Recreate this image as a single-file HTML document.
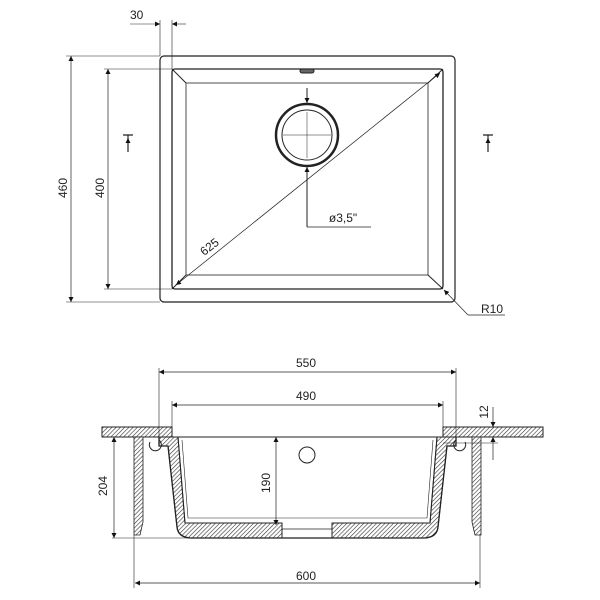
<!DOCTYPE html>
<html><head><meta charset="utf-8"><style>body{margin:0;background:#fff}svg{display:block}text{font-family:"Liberation Sans",sans-serif;font-size:12px;fill:#222}</style></head>
<body>
<svg width="600" height="600" viewBox="0 0 600 600" xmlns="http://www.w3.org/2000/svg">
<defs>
<pattern id="h" width="3" height="3" patternUnits="userSpaceOnUse" patternTransform="rotate(45)"><rect width="3" height="3" fill="#fff"/><line x1="0" y1="0" x2="0" y2="3" stroke="#333" stroke-width="1.2"/></pattern>
<marker id="a" viewBox="0 0 10 10" refX="10" refY="5" markerWidth="9" markerHeight="5" orient="auto-start-reverse" markerUnits="userSpaceOnUse"><path d="M0,0L10,5L0,10z" fill="#111"/></marker>
</defs>
<g fill="none" stroke="#222" stroke-width="1">
<rect x="160" y="56" width="295" height="246" rx="4" stroke-width="1.2"/>
<rect x="172" y="69" width="271" height="220" rx="3" stroke-width="1.3"/>
<rect x="186" y="83" width="242" height="192" stroke-width="0.8"/>
<line x1="172" y1="69" x2="186" y2="83"/><line x1="443" y1="69" x2="428" y2="83"/>
<line x1="172" y1="289" x2="186" y2="275"/><line x1="443" y1="289" x2="428" y2="275"/>
<rect x="300" y="69" width="14" height="4" rx="2" fill="#666"/>
<circle cx="307" cy="135" r="31" stroke-width="2.5"/>
<circle cx="307" cy="135" r="25"/>
<line x1="283" y1="135" x2="331" y2="135" stroke-width="0.5"/>
<line x1="307" y1="112" x2="307" y2="158" stroke-width="0.5"/>
<line x1="307" y1="88" x2="307" y2="103" marker-end="url(#a)"/>
<line x1="307" y1="227" x2="307" y2="167" marker-end="url(#a)"/>
<polyline points="307,227 371,227" stroke-width="0.7"/>
<line x1="176" y1="285" x2="440" y2="73" stroke-width="0.7" marker-start="url(#a)" marker-end="url(#a)"/>
<line x1="160" y1="56" x2="160" y2="20" stroke-width="0.6"/><line x1="172" y1="69" x2="172" y2="20" stroke-width="0.6"/>
<line x1="130" y1="24" x2="160" y2="24" stroke-width="0.6" marker-end="url(#a)"/>
<line x1="186" y1="24" x2="172" y2="24" stroke-width="0.6" marker-end="url(#a)"/>
<line x1="66" y1="56" x2="160" y2="56" stroke-width="0.6"/><line x1="66" y1="302" x2="160" y2="302" stroke-width="0.6"/>
<line x1="71" y1="56" x2="71" y2="302" stroke-width="0.7" marker-start="url(#a)" marker-end="url(#a)"/>
<line x1="104" y1="69" x2="172" y2="69" stroke-width="0.6"/><line x1="104" y1="289" x2="172" y2="289" stroke-width="0.6"/>
<line x1="108" y1="69" x2="108" y2="289" stroke-width="0.7" marker-start="url(#a)" marker-end="url(#a)"/>
<path d="M123,135h10M128,135v17" stroke-width="1.2"/><line x1="128" y1="151" x2="128" y2="138" marker-end="url(#a)" stroke-width="0.5"/>
<path d="M483,135h10M488,135v17" stroke-width="1.2"/><line x1="488" y1="151" x2="488" y2="138" marker-end="url(#a)" stroke-width="0.5"/>
<line x1="468" y1="315" x2="444" y2="290" stroke-width="0.7" marker-end="url(#a)"/>
<line x1="468" y1="315" x2="505" y2="315" stroke-width="0.7"/>

<rect x="102" y="427" width="70" height="10" fill="url(#h)"/>
<rect x="443" y="427" width="100" height="10" fill="url(#h)"/>
<line x1="172" y1="437" x2="443" y2="437"/>
<path d="M134,437h9v85l-3,13h-6z" fill="url(#h)" stroke-width="0.8"/>
<path d="M481,437h-9v85l3,13h6z" fill="url(#h)" stroke-width="0.8"/>
<path fill="url(#h)" d="M159,437H178L185,523H282V538H190Q178,537 177,527L168,446H159Z"/>
<path fill="url(#h)" d="M456,437H437L430,523H332V538H425Q437,537 438,527L447,446H456Z"/>
<path d="M159,437V446H168L177,527Q178,537 190,538H425Q437,537 438,527L447,446H456V437" stroke-width="1.3"/>
<path d="M178,437L185,523H282M437,437L430,523H332"/>
<path d="M182,440L188,518H427L433,440" stroke-width="0.6"/>
<path d="M282,525V538H332V525M282,529H332" stroke-width="0.7"/>
<path d="M159,440a6,6 0 1 1-9,2 M456,440a6,6 0 1 0 9,2"/>
<circle cx="307" cy="455" r="8"/>
<line x1="159" y1="368" x2="159" y2="437" stroke-width="0.6"/><line x1="456" y1="368" x2="456" y2="437" stroke-width="0.6"/>
<line x1="159" y1="372" x2="456" y2="372" stroke-width="0.7" marker-start="url(#a)" marker-end="url(#a)"/>
<line x1="172" y1="401" x2="172" y2="437" stroke-width="0.6"/><line x1="443" y1="401" x2="443" y2="437" stroke-width="0.6"/>
<line x1="172" y1="405" x2="443" y2="405" stroke-width="0.7" marker-start="url(#a)" marker-end="url(#a)"/>
<line x1="493" y1="407" x2="493" y2="427" stroke-width="0.7" marker-end="url(#a)"/>
<line x1="493" y1="460" x2="493" y2="437" stroke-width="0.7" marker-end="url(#a)"/>
<line x1="443" y1="443" x2="498" y2="443" stroke-width="0.5"/>
<line x1="114" y1="437" x2="114" y2="538" stroke-width="0.7" marker-start="url(#a)" marker-end="url(#a)"/>
<line x1="112" y1="538" x2="190" y2="538" stroke-width="0.5"/>
<line x1="276" y1="437" x2="276" y2="525" stroke-width="0.7" marker-start="url(#a)" marker-end="url(#a)"/>
<line x1="134" y1="535" x2="134" y2="588" stroke-width="0.6"/><line x1="480" y1="535" x2="480" y2="588" stroke-width="0.6"/>
<line x1="135" y1="583" x2="480" y2="583" stroke-width="0.7" marker-start="url(#a)" marker-end="url(#a)"/>
</g>
<text x="130" y="19">30</text>
<text transform="translate(67,188) rotate(-90)" text-anchor="middle">460</text>
<text transform="translate(104,188) rotate(-90)" text-anchor="middle">400</text>
<text transform="translate(212,250) rotate(-38)" text-anchor="middle">625</text>
<text x="343" y="222" text-anchor="middle">ø3,5"</text>
<text x="481" y="313">R10</text>
<text x="306" y="367" text-anchor="middle">550</text>
<text x="306" y="400" text-anchor="middle">490</text>
<text transform="translate(488,412) rotate(-90)" text-anchor="middle">12</text>
<text transform="translate(107,486) rotate(-90)" text-anchor="middle">204</text>
<text transform="translate(270,483) rotate(-90)" text-anchor="middle">190</text>
<text x="306" y="580" text-anchor="middle">600</text>
</svg>
</body></html>
